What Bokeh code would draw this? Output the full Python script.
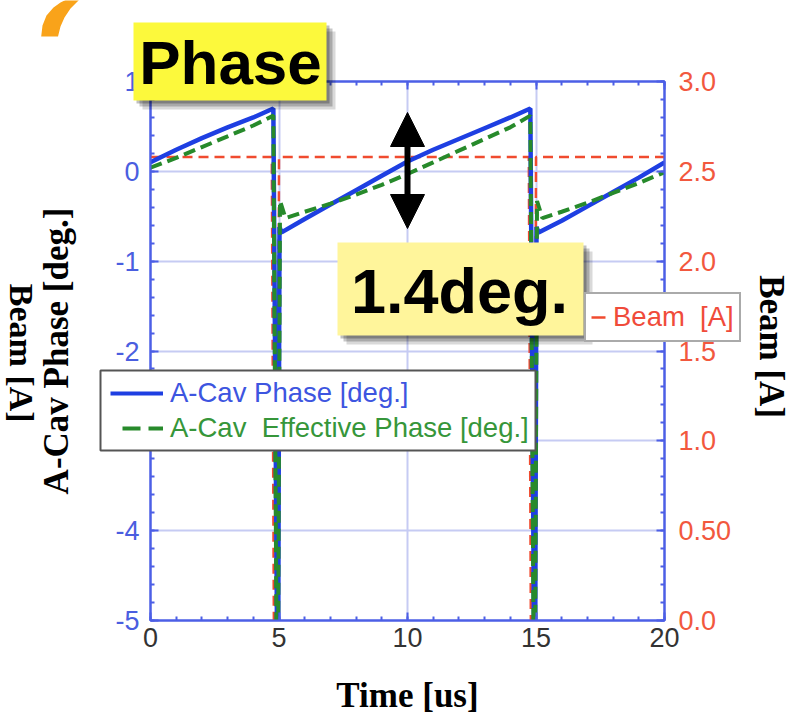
import numpy as np
from bokeh.plotting import figure
from bokeh.layouts import column
from bokeh.models import (Range1d, LinearAxis, FixedTicker, Legend, LegendItem, Label,
                          BoxAnnotation, Arrow, NormalHead, PolyAnnotation)
from bokeh.embed import file_html
from bokeh.resources import INLINE

# ---------------- data ----------------
time_phase = [0, 1, 2, 3, 4, 4.78, 4.92, 4.97, 5.02, 5.1, 6, 7, 8, 9, 10, 11, 12, 13, 14,
              14.78, 14.92, 14.97, 15.02, 15.1, 16, 17, 18, 19, 20]
cav_phase = [0.10, 0.24, 0.37, 0.49, 0.60, 0.70, -5.0, -5.0, -0.62, -0.68, -0.53, -0.37, -0.21,
             -0.05, 0.11, 0.24, 0.36, 0.48, 0.60, 0.70, -5.0, -5.0, -0.62, -0.68, -0.55, -0.39,
             -0.23, -0.07, 0.10]

time_eff = [0, 1, 2, 3, 4, 4.78, 4.9, 4.97, 5.04, 5.25, 6, 7, 8, 9, 10, 11, 12, 13, 14,
            14.78, 14.9, 14.97, 15.04, 15.25, 16, 17, 18, 19, 20]
eff_phase = [0.04, 0.15, 0.27, 0.39, 0.51, 0.62, -5.0, -5.0, -0.33, -0.52, -0.45, -0.36, -0.26,
             -0.15, -0.03, 0.10, 0.23, 0.36, 0.49, 0.62, -5.0, -5.0, -0.33, -0.52, -0.45, -0.35,
             -0.24, -0.13, -0.01]

time_beam = [0, 4.72, 4.8, 4.95, 5.0, 14.72, 14.8, 14.95, 15.0, 20]
beam_current = [2.58, 2.58, 0.0, 0.0, 2.58, 2.58, 0.0, 0.0, 2.58, 2.58]

x_ticks = [0, 5, 10, 15, 20]
x_minor = [float(v) for v in range(0, 21)]
y_ticks = [-5, -4, -3, -2, -1, 0, 1]
y_minor = [round(-5 + 0.2 * i, 1) for i in range(31)]
beam_ticks = [0, 0.5, 1.0, 1.5, 2.0, 2.5, 3.0]
beam_minor = [round(0.1 * i, 1) for i in range(31)]
beam_tick_labels = ["0.0", "0.50", "1.0", "1.5", "2.0", "2.5", "3.0"]

series_labels = ["A-Cav Phase [deg.]", "A-Cav  Effective Phase [deg.]", "Beam  [A]"]

# ---------------- layout ----------------
W, H = 794, 717
FL, FR, FT, FB = 150, 128, 81, 97

AX_BLUE = "#4c5fe6"
BLUE = "#1e3fe2"
GREEN = "#278a2b"
RED = "#f04b2f"
SANS = "Liberation Sans"
SERIF = "Liberation Serif"

p = figure(width=W, height=H, x_range=Range1d(0, 20), y_range=Range1d(-5, 1),
           output_backend="svg", toolbar_location=None, frame_align=False,
           min_border_left=FL, min_border_right=FR, min_border_top=FT, min_border_bottom=FB,
           background_fill_color="white", border_fill_color="white")
p.extra_y_ranges = {"beam": Range1d(0, 3)}
p.outline_line_color = AX_BLUE
p.outline_line_width = 2

bottom_axis = p.below[0]
left_axis = p.left[0]
bottom_axis.ticker = FixedTicker(ticks=x_ticks, minor_ticks=x_minor)
left_axis.ticker = FixedTicker(ticks=y_ticks, minor_ticks=y_minor)
bottom_axis.major_label_overrides = {v: str(v) for v in x_ticks}
left_axis.major_label_overrides = {v: str(v) for v in y_ticks}

right_axis = LinearAxis(y_range_name="beam",
                        ticker=FixedTicker(ticks=beam_ticks, minor_ticks=beam_minor),
                        major_label_overrides=dict(zip(beam_ticks, beam_tick_labels)))
p.add_layout(right_axis, "right")
top_axis = LinearAxis(ticker=FixedTicker(ticks=x_ticks, minor_ticks=x_minor))
p.add_layout(top_axis, "above")

for ax in [bottom_axis, left_axis, right_axis, top_axis]:
    ax.axis_line_color = AX_BLUE
    ax.axis_line_width = 2
    ax.major_tick_line_color = AX_BLUE
    ax.minor_tick_line_color = AX_BLUE
    ax.major_tick_line_width = 2
    ax.minor_tick_line_width = 2
    ax.major_tick_in = 8
    ax.major_tick_out = 0
    ax.minor_tick_in = 4
    ax.minor_tick_out = 0
    ax.major_label_text_font = SANS
    ax.major_label_text_font_size = "27px"
    ax.axis_label_text_font = SERIF
    ax.axis_label_text_font_style = "bold"
    ax.axis_label_text_font_size = "35px"
    ax.axis_label_text_color = "black"

bottom_axis.major_label_text_color = "#333333"
bottom_axis.major_label_standoff = 7
bottom_axis.axis_label = "Time [us]"
bottom_axis.axis_label_standoff = 26

left_axis.major_label_text_color = "#4a5ee0"
left_axis.major_label_standoff = 11
left_axis.axis_label = "A-Cav Phase [deg.]"
left_axis.axis_label_standoff = 36

right_axis.major_label_text_color = "#f2583e"
right_axis.major_label_standoff = 14
right_axis.axis_label = "Beam  [A]"
right_axis.axis_label_standoff = 18

top_axis.major_label_text_alpha = 0
top_axis.major_label_text_font_size = "1px"
top_axis.major_label_standoff = 0

p.xgrid.ticker = FixedTicker(ticks=x_ticks)
p.ygrid.ticker = FixedTicker(ticks=y_ticks)
p.grid.grid_line_color = "#c6cbf3"
p.grid.grid_line_width = 2

# ---------------- glyphs ----------------
p.line(time_beam, beam_current, y_range_name="beam", line_color=RED, line_width=2.5,
       line_dash="10 6")
p.line(time_phase, cav_phase, line_color=BLUE, line_width=4.5)
p.line(time_eff, eff_phase, line_color=GREEN, line_width=4, line_dash="12 6")

# ---------------- overlay (slide annotations, page pixel coordinates) ----------------
ov = figure(width=W, height=H, x_range=Range1d(0, W), y_range=Range1d(H, 0),
            output_backend="svg", toolbar_location=None, min_border=0, frame_align=False,
            x_axis_type=None, y_axis_type=None,
            background_fill_alpha=0, border_fill_alpha=0, outline_line_color=None,
            styles={"position": "absolute", "left": "0px", "top": "0px"})
ov.grid.visible = False

# legend key renderers (one point each, outside the visible area; styles of the series)
k_cav = ov.line(x=[-100], y=[-100], line_color=BLUE, line_width=4)
k_eff = ov.line(x=[-100], y=[-100], line_color=GREEN, line_width=4, line_dash="18 8")
k_beam = ov.line(x=[-100], y=[-100], line_color=RED, line_width=2.5, line_dash="14 6")

# orange decorative arc (top-left corner of the slide)
arc_x = [40.7, 42, 46, 53, 60, 66, 79, 70, 64, 60, 57.5]
arc_y = [36, 25, 15, 7, 2, -1, -1, 8, 17, 26, 36]
ov.add_layout(PolyAnnotation(xs=arc_x, ys=arc_y, fill_color="#f9a31a", fill_alpha=1,
                             line_alpha=0, level="overlay"))

# stray slide label at the far left
ov.add_layout(Label(x=21, y=357, text="Beam  [A]", angle=-np.pi / 2, text_align="center",
                    text_baseline="middle", text_font=SERIF, text_font_style="bold",
                    text_font_size="34px", text_color="black", level="overlay"))

# main legend
ov.add_layout(BoxAnnotation(left=100, right=535, top=370, bottom=450, fill_color="white",
                            fill_alpha=1.0, line_color="#555555", line_width=2, line_alpha=1.0,
                            level="overlay"))


def legend(label, rend, loc, color, glyph_width, padding=0, **kw):
    return Legend(items=[LegendItem(label=label, renderers=[rend])], location=loc,
                  padding=padding, margin=0, spacing=0, glyph_width=glyph_width,
                  glyph_height=36, label_height=36, label_standoff=7, label_text_font=SANS,
                  label_text_font_size="27.5px", label_text_color=color, level="overlay", **kw)


ov.add_layout(legend(series_labels[0], k_cav, (110, H - 411), "#3d55e0", 53,
                     background_fill_alpha=0, border_line_alpha=0))
ov.add_layout(legend(series_labels[1], k_eff, (122, H - 446), "#36963a", 41,
                     background_fill_alpha=0, border_line_alpha=0))
ov.add_layout(legend(series_labels[2], k_beam, (584, H - 342), "#f04b3a", 15, padding=5,
                     background_fill_color="white", background_fill_alpha=1,
                     border_line_color="#555555", border_line_width=2))


def callout(l, t, r, b, color, text, tx, baseline, size):
    for off, a in [(9, 0.15), (6, 0.22), (3, 0.25)]:
        ov.add_layout(BoxAnnotation(left=l + off, right=r + off, top=t + off, bottom=b + off,
                                    fill_color="black", fill_alpha=a, line_alpha=0,
                                    level="overlay"))
    ov.add_layout(BoxAnnotation(left=l, right=r, top=t, bottom=b, fill_color=color,
                                fill_alpha=1, line_alpha=0, level="overlay"))
    ov.add_layout(Label(x=tx, y=baseline - 0.3465 * size, text=text, text_align="center",
                        text_baseline="middle", text_font=SANS, text_font_style="bold",
                        text_font_size=f"{size}px", text_color="black", level="overlay"))


callout(337, 242, 583, 335, "#fff59b", "1.4deg.", 459, 312, 63)
callout(133, 22, 326, 100, "#fcf93c", "Phase", 230, 83, 62)

ov.add_layout(Arrow(x_start=407, y_start=228, x_end=407, y_end=112,
                    line_color="black", line_width=6, level="overlay",
                    start=NormalHead(size=34, fill_color="black", line_color="black"),
                    end=NormalHead(size=34, fill_color="black", line_color="black")))

page = column(p, ov, styles={"position": "relative"})
open("out.html", "w").write(file_html(page, INLINE))
